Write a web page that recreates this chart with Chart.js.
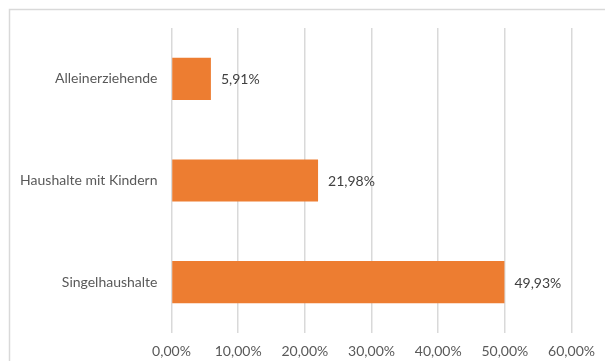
<!DOCTYPE html>
<html>
<head>
<meta charset="utf-8">
<script src="https://cdn.jsdelivr.net/npm/chart.js@4"></script>
<style>
    html, body { margin: 0; padding: 0; background: white; }
    #wrap { width: 605px; height: 361px; position: relative; }
</style>
</head>
<body>
<div id="wrap"><canvas id="chart"></canvas></div>
<script>
const kategorien = ["Alleinerziehende", "Haushalte mit Kindern", "Singelhaushalte"];
const anteile = [5.91, 21.98, 49.93];
const achseMin = 0;
const achseMax = 60;
const achseSchritt = 10;

function prozent(v) {
    return v.toFixed(2).replace('.', ',') + '%';
}

const hintergrund = {
    id: 'hintergrund',
    beforeDraw: (chart) => {
        const ctx = chart.ctx;
        ctx.save();
        ctx.fillStyle = 'white';
        ctx.fillRect(0, 0, chart.width, chart.height);
        ctx.strokeStyle = '#d9d9d9';
        ctx.lineWidth = 1.5;
        ctx.strokeRect(9.5, 9.5, 800, 800);
        ctx.restore();
    }
};

const werteLabels = {
    id: 'werteLabels',
    afterDatasetsDraw: (chart) => {
        const ctx = chart.ctx;
        const meta = chart.getDatasetMeta(0);
        ctx.save();
        ctx.fillStyle = '#404040';
        ctx.font = '14px Lato, "Open Sans", sans-serif';
        ctx.textAlign = 'left';
        ctx.textBaseline = 'middle';
        meta.data.forEach((bar, i) => {
            ctx.fillText(prozent(anteile[i]), bar.x + 10, bar.y + 1);
        });
        ctx.restore();
    }
};

new Chart(document.getElementById('chart'), {
    type: 'bar',
    plugins: [hintergrund, werteLabels],
    data: {
        labels: kategorien,
        datasets: [{
            data: anteile,
            backgroundColor: '#ED7D31',
            borderWidth: 0,
            barPercentage: 0.6,
            categoryPercentage: 0.69
        }]
    },
    options: {
        indexAxis: 'y',
        responsive: true,
        maintainAspectRatio: false,
        animation: false,
        layout: {
            padding: { left: 0, right: 33, top: 28, bottom: 0 }
        },
        scales: {
            x: {
                min: achseMin,
                max: achseMax,
                border: { display: false },
                grid: {
                    color: '#d9d9d9',
                    lineWidth: 1.5,
                    drawTicks: false
                },
                ticks: {
                    stepSize: achseSchritt,
                    padding: 10,
                    color: '#595959',
                    font: { family: 'Lato, "Open Sans", sans-serif', size: 14 },
                    callback: function (value) {
                        return prozent(value);
                    }
                },
                afterFit: (scale) => { scale.height = 28; }
            },
            y: {
                border: { display: false },
                grid: { display: false, drawTicks: false },
                ticks: {
                    padding: 14,
                    color: '#595959',
                    font: { family: 'Lato, "Open Sans", sans-serif', size: 14 }
                },
                afterFit: (scale) => { scale.width = 171.5; }
            }
        },
        plugins: {
            legend: { display: false },
            tooltip: { enabled: false }
        }
    }
});
</script>
</body>
</html>
